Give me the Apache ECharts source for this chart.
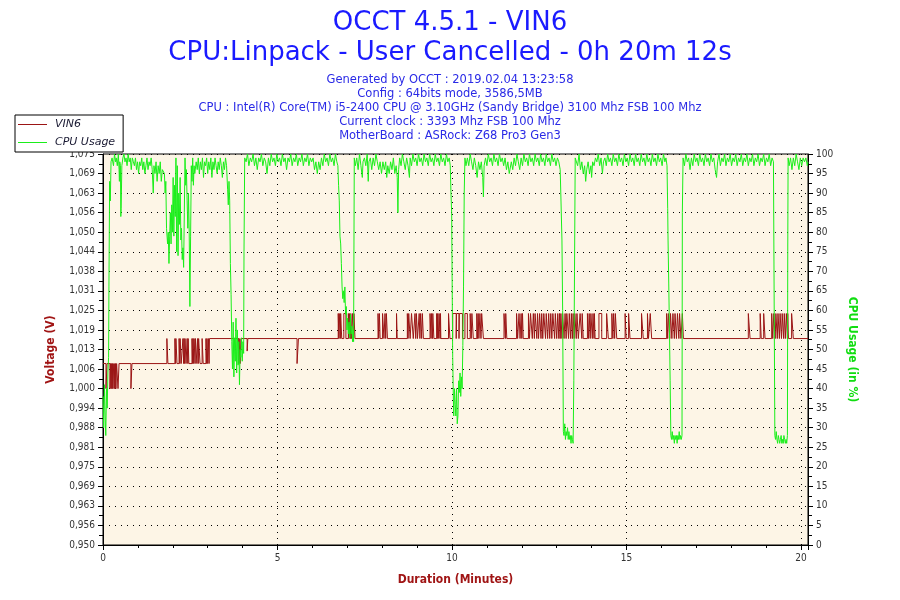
<!DOCTYPE html>
<html lang="en">
<head>
    <meta charset="UTF-8">
    <title>OCCT 4.5.1 - VIN6</title>
    <style>
        html, body { margin: 0; padding: 0; background: #fff; }
    </style>
</head>
<body>
<script src="https://cdn.jsdelivr.net/npm/echarts@6/dist/echarts.min.js"></script>
<div id="main" style="width: 900px;height:600px;"></div>

<script>
    // tick labels of the voltage axis (0,950 .. 1,075, step 0,00625)
    var voltLabels = ['0,950', '0,956', '0,963', '0,969', '0,975', '0,981', '0,988', '0,994', '1,000', '1,006',
        '1,013', '1,019', '1,025', '1,031', '1,038', '1,044', '1,050', '1,056', '1,063', '1,069', '1,075'];

    var infoLines = [
        'Generated by OCCT : 2019.02.04 13:23:58',
        'Config : 64bits mode, 3586,5MB',
        'CPU : Intel(R) Core(TM) i5-2400 CPU @ 3.10GHz (Sandy Bridge) 3100 Mhz FSB 100 Mhz',
        'Current clock : 3393 Mhz FSB 100 Mhz',
        'MotherBoard : ASRock: Z68 Pro3 Gen3'
    ];

    // VIN6 voltage, [minute, volts] - value holds until the next point
    var vin6 = [
        [0, 1.008],
        [0.086, 1.000], [0.115, 1.008],
        [0.2, 1.000], [0.215, 1.008],
        [0.23, 1.000], [0.245, 1.008], [0.255, 1.000], [0.27, 1.008], [0.28, 1.000], [0.295, 1.008],
        [0.32, 1.000], [0.335, 1.008], [0.345, 1.000], [0.36, 1.008], [0.37, 1.000], [0.39, 1.008],
        [0.43, 1.000], [0.46, 1.008],
        [0.8, 1.000], [0.83, 1.008],
        [1.83, 1.016], [1.86, 1.008],
        [2.06, 1.016], [2.08, 1.008], [2.09, 1.016], [2.12, 1.008],
        [2.18, 1.016], [2.2, 1.008], [2.21, 1.016], [2.24, 1.008],
        [2.29, 1.016], [2.31, 1.008], [2.32, 1.016], [2.34, 1.008], [2.35, 1.016], [2.38, 1.008],
        [2.41, 1.016], [2.43, 1.008], [2.44, 1.016], [2.46, 1.008],
        [2.55, 1.016], [2.57, 1.008], [2.58, 1.016], [2.6, 1.008], [2.61, 1.016], [2.64, 1.008], [2.65, 1.016], [2.69, 1.008],
        [2.71, 1.016], [2.73, 1.008], [2.74, 1.016], [2.78, 1.008],
        [2.84, 1.016], [2.87, 1.008],
        [2.95, 1.016], [2.97, 1.008], [2.98, 1.016], [3.0, 1.008], [3.02, 1.016], [3.04, 1.008],
        [3.05, 1.016],
        [3.89, 1.008], [3.9, 1.016], [3.93, 1.008], [3.95, 1.016],
        [4.13, 1.012], [4.15, 1.016],
        [5.56, 1.008], [5.6, 1.016],
        [6.74, 1.024], [6.76, 1.016], [6.77, 1.024], [6.8, 1.016], [6.81, 1.024], [6.84, 1.016],
        [6.9, 1.024], [6.96, 1.016],
        [7.03, 1.024], [7.05, 1.016], [7.06, 1.024], [7.09, 1.016], [7.1, 1.024], [7.12, 1.016],
        [7.15, 1.024], [7.18, 1.016], [7.19, 1.024], [7.22, 1.016],
        [7.88, 1.024], [7.9, 1.016], [7.92, 1.024], [7.94, 1.016],
        [8.01, 1.024], [8.05, 1.016],
        [8.08, 1.024], [8.1, 1.016], [8.12, 1.024], [8.15, 1.016],
        [8.41, 1.024], [8.43, 1.016],
        [8.72, 1.024], [8.74, 1.016], [8.76, 1.024], [8.8, 1.016],
        [8.84, 1.024], [8.89, 1.016],
        [8.94, 1.024], [8.96, 1.016], [8.98, 1.024], [9.01, 1.016],
        [9.06, 1.024], [9.08, 1.016], [9.1, 1.024], [9.13, 1.016], [9.15, 1.024], [9.18, 1.016],
        [9.37, 1.024], [9.4, 1.016], [9.41, 1.024], [9.44, 1.016], [9.45, 1.024], [9.48, 1.016],
        [9.56, 1.024], [9.58, 1.016], [9.59, 1.024], [9.62, 1.016], [9.63, 1.024], [9.66, 1.016], [9.67, 1.024], [9.68, 1.016],
        [9.9, 1.024], [9.94, 1.016],
        [10.02, 1.024], [10.12, 1.016], [10.13, 1.024], [10.2, 1.016], [10.21, 1.024], [10.3, 1.016],
        [10.37, 1.024], [10.44, 1.016],
        [10.52, 1.024], [10.55, 1.016], [10.57, 1.024], [10.61, 1.016],
        [10.71, 1.024], [10.73, 1.016], [10.75, 1.024], [10.77, 1.016],
        [10.8, 1.024], [10.83, 1.016], [10.85, 1.024], [10.9, 1.016],
        [11.49, 1.024], [11.53, 1.016], [11.54, 1.024], [11.57, 1.016],
        [11.85, 1.024], [11.88, 1.016], [11.92, 1.024], [11.95, 1.016], [11.98, 1.024], [12.0, 1.016], [12.02, 1.024], [12.04, 1.016],
        [12.19, 1.024], [12.22, 1.016], [12.25, 1.024], [12.3, 1.016], [12.33, 1.024], [12.36, 1.016], [12.38, 1.024], [12.43, 1.016],
        [12.45, 1.024], [12.48, 1.016], [12.51, 1.024], [12.55, 1.016], [12.57, 1.024], [12.6, 1.016], [12.63, 1.024], [12.68, 1.016],
        [12.7, 1.024], [12.74, 1.016], [12.77, 1.024], [12.8, 1.016], [12.83, 1.024], [12.86, 1.016], [12.89, 1.024], [12.94, 1.016],
        [12.96, 1.024], [13.0, 1.016], [13.03, 1.024], [13.06, 1.016], [13.08, 1.024], [13.1, 1.016],
        [13.12, 1.024], [13.15, 1.016], [13.17, 1.024], [13.21, 1.016], [13.24, 1.024], [13.27, 1.016], [13.29, 1.024], [13.34, 1.016],
        [13.36, 1.024], [13.4, 1.016], [13.42, 1.024], [13.45, 1.016], [13.47, 1.024], [13.5, 1.016], [13.52, 1.024], [13.56, 1.016],
        [13.58, 1.024], [13.62, 1.016],
        [13.67, 1.024], [13.72, 1.016], [13.73, 1.024], [13.76, 1.016],
        [13.88, 1.024], [13.91, 1.016], [13.93, 1.024], [13.96, 1.016], [13.98, 1.024], [14.02, 1.016], [14.04, 1.024], [14.07, 1.016],
        [14.08, 1.024], [14.1, 1.016],
        [14.21, 1.024], [14.29, 1.016],
        [14.43, 1.024], [14.48, 1.016],
        [14.58, 1.024], [14.61, 1.016], [14.63, 1.024], [14.66, 1.016], [14.68, 1.024], [14.72, 1.016],
        [14.96, 1.024], [14.99, 1.016], [15.06, 1.024], [15.1, 1.016],
        [15.43, 1.024], [15.48, 1.016],
        [15.6, 1.024], [15.63, 1.016], [15.68, 1.024], [15.72, 1.016],
        [16.15, 1.024], [16.18, 1.016], [16.2, 1.024], [16.24, 1.016], [16.26, 1.024], [16.3, 1.016], [16.33, 1.024], [16.37, 1.016],
        [16.39, 1.024], [16.43, 1.016], [16.46, 1.024], [16.5, 1.016], [16.52, 1.024], [16.56, 1.016], [16.6, 1.024], [16.63, 1.016],
        [18.49, 1.024], [18.54, 1.016],
        [18.83, 1.024], [18.86, 1.016], [18.93, 1.024], [18.97, 1.016],
        [19.16, 1.024], [19.19, 1.016], [19.22, 1.024], [19.26, 1.016], [19.28, 1.024], [19.32, 1.016], [19.34, 1.024], [19.38, 1.016],
        [19.4, 1.024], [19.44, 1.016], [19.46, 1.024], [19.5, 1.016], [19.52, 1.024], [19.55, 1.016], [19.58, 1.024], [19.61, 1.016],
        [19.62, 1.024], [19.64, 1.016],
        [19.73, 1.024], [19.78, 1.016],
        [20.2, 1.016]
    ];

    // CPU usage in %, [minute, percent]
    var cpuUsage = [
        [0, 38], [0.02, 30], [0.04, 41], [0.06, 33], [0.08, 28], [0.1, 40], [0.12, 35], [0.14, 44], [0.16, 48], [0.17, 66],
        [0.19, 93], [0.21, 88], [0.23, 98], [0.26, 99],
        [0.3, 97], [0.33, 100], [0.36, 98], [0.38, 99], [0.41, 97], [0.44, 100], [0.46, 96],
        [0.47, 93], [0.48, 98], [0.5, 97], [0.51, 84], [0.52, 86], [0.54, 97],
        [0.57, 99], [0.6, 100], [0.63, 98], [0.66, 99], [0.69, 97], [0.72, 100], [0.75, 98], [0.78, 99], [0.81, 96], [0.84, 99],
        [0.87, 98], [0.9, 97], [0.93, 99], [0.96, 96], [0.99, 98], [1.02, 95], [1.05, 98], [1.08, 97], [1.11, 99], [1.14, 96],
        [1.17, 98], [1.2, 95], [1.23, 97], [1.26, 99], [1.29, 96], [1.32, 98], [1.35, 97], [1.38, 99], [1.41, 96],
        [1.44, 90], [1.46, 97],
        [1.49, 95], [1.52, 98], [1.55, 93], [1.58, 97], [1.61, 95], [1.64, 98], [1.67, 93], [1.7, 96], [1.73, 96], [1.76, 95],
        [1.78, 90], [1.8, 93], [1.82, 81], [1.85, 77], [1.87, 80], [1.89, 72], [1.91, 79], [1.93, 85], [1.95, 77], [1.97, 87],
        [1.99, 80], [2.01, 94], [2.03, 79], [2.05, 92], [2.07, 84], [2.09, 99], [2.11, 75], [2.13, 97], [2.15, 74], [2.17, 90],
        [2.19, 82], [2.21, 94], [2.23, 78], [2.25, 81], [2.27, 73], [2.29, 76], [2.31, 71], [2.33, 85], [2.35, 99], [2.37, 92],
        [2.39, 96], [2.41, 88], [2.43, 81], [2.45, 90], [2.47, 80], [2.49, 61], [2.51, 79], [2.53, 97], [2.55, 93], [2.57, 99],
        [2.59, 92], [2.61, 97], [2.63, 95],
        [2.67, 98], [2.7, 96], [2.73, 99], [2.76, 95], [2.79, 98], [2.82, 96], [2.85, 99], [2.88, 94], [2.91, 98], [2.94, 97],
        [2.97, 99], [3.0, 95], [3.03, 98], [3.06, 96], [3.09, 99], [3.12, 94], [3.15, 98], [3.18, 96], [3.21, 99], [3.24, 97],
        [3.27, 95], [3.3, 98], [3.33, 96], [3.36, 99], [3.39, 97], [3.42, 94], [3.45, 98], [3.48, 96], [3.51, 99], [3.54, 97],
        [3.57, 91], [3.59, 87], [3.61, 93], [3.63, 88], [3.65, 72], [3.67, 64], [3.69, 52], [3.71, 45], [3.73, 57], [3.75, 43],
        [3.77, 53], [3.79, 47], [3.81, 58], [3.83, 44], [3.85, 55], [3.87, 46], [3.89, 52], [3.91, 41], [3.93, 50], [3.95, 48],
        [3.97, 53], [3.99, 47], [4.01, 52], [4.03, 49], [4.04, 75], [4.06, 99],
        [4.1, 98], [4.14, 100], [4.18, 97], [4.22, 99], [4.26, 98], [4.3, 100], [4.34, 97], [4.38, 99], [4.42, 96], [4.46, 99],
        [4.5, 98], [4.54, 100], [4.58, 97], [4.62, 99], [4.66, 98], [4.7, 95], [4.74, 99], [4.78, 97], [4.82, 100], [4.86, 98],
        [4.9, 99], [4.94, 97], [4.98, 100], [5.02, 98], [5.06, 99], [5.1, 97], [5.14, 100], [5.18, 98], [5.22, 99], [5.26, 96],
        [5.3, 99], [5.34, 98], [5.38, 100], [5.42, 97], [5.46, 99], [5.5, 98], [5.54, 100], [5.58, 97], [5.62, 99], [5.66, 98],
        [5.7, 100], [5.74, 97], [5.78, 99], [5.82, 98], [5.86, 100], [5.9, 97], [5.94, 99], [5.98, 98], [6.02, 99], [6.06, 96],
        [6.1, 98], [6.14, 95], [6.18, 98], [6.22, 96], [6.26, 99], [6.3, 97], [6.34, 100], [6.38, 98], [6.42, 99], [6.46, 97],
        [6.5, 100], [6.54, 98], [6.58, 99], [6.62, 97], [6.66, 100], [6.7, 98],
        [6.73, 97], [6.75, 92], [6.77, 88], [6.79, 79], [6.81, 77], [6.83, 72], [6.85, 66], [6.87, 63], [6.89, 65], [6.91, 62],
        [6.93, 66], [6.95, 59], [6.97, 61], [6.99, 55], [7.01, 58], [7.03, 54], [7.05, 57], [7.07, 53], [7.09, 59], [7.11, 54],
        [7.13, 56], [7.15, 52], [7.17, 55], [7.18, 52], [7.2, 99],
        [7.23, 97], [7.27, 99], [7.31, 96], [7.35, 100], [7.39, 97], [7.43, 94], [7.45, 98], [7.49, 99], [7.53, 97], [7.57, 100],
        [7.6, 93], [7.62, 98], [7.66, 99], [7.7, 96], [7.74, 99], [7.78, 97], [7.82, 100], [7.86, 98], [7.9, 96], [7.94, 98],
        [7.98, 95], [8.02, 98], [8.06, 96], [8.1, 98], [8.13, 94], [8.16, 97], [8.2, 95], [8.24, 98], [8.28, 96], [8.32, 99],
        [8.36, 95], [8.4, 97], [8.43, 94], [8.45, 85], [8.47, 96], [8.5, 99], [8.54, 97], [8.58, 100], [8.62, 98], [8.66, 96],
        [8.7, 99], [8.74, 97], [8.78, 94], [8.8, 99], [8.84, 97], [8.88, 100], [8.92, 98], [8.96, 99], [9.0, 97], [9.04, 100],
        [9.08, 98], [9.12, 99], [9.16, 97], [9.2, 100], [9.24, 98], [9.28, 99], [9.32, 97], [9.36, 100], [9.4, 98], [9.44, 99],
        [9.48, 97], [9.52, 100], [9.56, 98], [9.6, 99], [9.64, 97], [9.68, 100], [9.72, 98], [9.76, 99], [9.8, 97], [9.84, 100],
        [9.88, 98], [9.92, 99],
        [9.95, 97], [9.97, 90], [9.99, 85], [10.01, 60], [10.02, 48], [10.04, 37], [10.05, 33], [10.07, 40], [10.09, 36], [10.11, 33],
        [10.13, 40], [10.15, 31], [10.17, 33], [10.19, 42], [10.21, 39], [10.23, 44], [10.25, 38], [10.27, 43], [10.29, 40], [10.31, 51],
        [10.33, 66], [10.35, 90], [10.37, 99],
        [10.4, 97], [10.44, 99], [10.48, 97], [10.52, 100], [10.56, 98], [10.6, 96], [10.64, 99], [10.68, 97], [10.72, 94], [10.76, 98],
        [10.8, 96], [10.84, 98], [10.88, 94], [10.9, 89], [10.92, 97], [10.96, 99], [11.0, 97], [11.04, 100], [11.08, 98], [11.12, 99],
        [11.16, 97], [11.2, 100], [11.24, 98], [11.28, 99], [11.32, 97], [11.36, 100], [11.4, 98], [11.44, 99], [11.48, 97], [11.52, 99],
        [11.56, 96], [11.6, 98], [11.64, 95], [11.66, 96], [11.7, 98], [11.74, 96], [11.78, 99], [11.82, 97], [11.86, 100], [11.9, 98],
        [11.94, 96], [11.98, 99], [12.02, 97], [12.06, 100], [12.1, 98], [12.14, 99], [12.18, 97], [12.22, 100], [12.26, 98], [12.3, 99],
        [12.34, 97], [12.38, 100], [12.42, 98], [12.46, 99], [12.5, 97], [12.54, 100], [12.58, 98], [12.62, 99], [12.66, 97], [12.7, 100],
        [12.74, 98], [12.78, 99], [12.82, 97], [12.86, 100], [12.9, 98], [12.94, 99], [12.98, 97], [13.02, 99], [13.06, 98],
        [13.1, 96], [13.12, 89], [13.15, 78], [13.17, 60], [13.19, 29], [13.21, 28], [13.23, 31], [13.25, 27], [13.27, 29], [13.29, 28],
        [13.31, 30], [13.33, 27], [13.35, 29], [13.37, 27], [13.39, 28], [13.41, 26], [13.43, 28], [13.45, 27], [13.47, 26], [13.49, 42],
        [13.51, 70], [13.53, 99],
        [13.56, 99], [13.6, 97], [13.64, 100], [13.68, 96], [13.72, 98], [13.76, 95], [13.8, 97], [13.83, 93], [13.86, 96], [13.9, 98],
        [13.94, 95], [13.98, 97], [14.0, 94], [14.03, 98], [14.07, 97], [14.11, 99], [14.15, 98], [14.19, 100], [14.23, 97], [14.27, 99],
        [14.31, 95], [14.34, 98], [14.38, 99], [14.42, 97], [14.46, 100], [14.5, 98], [14.54, 99], [14.58, 97], [14.62, 100], [14.66, 98],
        [14.7, 99], [14.74, 97], [14.78, 100], [14.82, 98], [14.86, 99], [14.9, 97], [14.94, 100], [14.98, 98], [15.02, 99], [15.06, 97],
        [15.1, 100], [15.14, 98], [15.18, 99], [15.22, 97], [15.26, 100], [15.3, 98], [15.34, 99], [15.38, 97], [15.42, 100], [15.46, 98],
        [15.5, 99], [15.54, 97], [15.58, 100], [15.62, 98], [15.66, 99], [15.7, 97], [15.74, 100], [15.78, 98], [15.82, 99], [15.86, 97],
        [15.9, 100], [15.94, 98], [15.98, 99], [16.02, 97], [16.06, 100], [16.1, 98], [16.13, 99],
        [16.16, 97], [16.18, 86], [16.19, 78], [16.21, 67], [16.23, 55], [16.25, 42], [16.27, 28], [16.29, 27], [16.31, 29], [16.33, 27],
        [16.35, 28], [16.37, 26], [16.39, 28], [16.41, 27], [16.43, 28], [16.45, 26], [16.47, 28], [16.49, 27], [16.51, 29], [16.53, 27],
        [16.55, 28], [16.57, 27], [16.59, 28], [16.6, 85], [16.62, 99],
        [16.66, 97], [16.7, 100], [16.74, 98], [16.78, 99], [16.82, 96], [16.86, 99], [16.9, 97], [16.94, 100], [16.98, 98], [17.02, 99],
        [17.06, 97], [17.1, 100], [17.14, 98], [17.18, 99], [17.22, 97], [17.26, 100], [17.3, 98], [17.34, 99], [17.38, 97], [17.42, 100],
        [17.46, 98], [17.5, 99], [17.54, 96], [17.58, 94], [17.61, 98], [17.65, 100], [17.69, 97], [17.73, 99], [17.77, 98], [17.81, 100],
        [17.85, 97], [17.89, 99], [17.93, 98], [17.97, 100], [18.01, 97], [18.05, 99], [18.09, 98], [18.13, 100], [18.17, 97], [18.21, 99],
        [18.25, 98], [18.29, 100], [18.33, 97], [18.37, 99], [18.41, 98], [18.45, 100], [18.49, 97], [18.53, 99], [18.57, 98], [18.61, 100],
        [18.65, 97], [18.69, 99], [18.73, 98], [18.77, 100], [18.81, 97], [18.85, 99], [18.89, 98], [18.93, 100], [18.97, 97], [19.01, 99],
        [19.05, 98], [19.09, 100], [19.13, 97], [19.17, 99], [19.21, 98],
        [19.23, 98], [19.25, 28], [19.27, 27], [19.29, 29], [19.31, 27], [19.33, 26], [19.35, 28], [19.37, 27], [19.39, 26], [19.41, 27],
        [19.43, 28], [19.45, 26], [19.47, 27], [19.49, 26], [19.51, 28], [19.53, 27], [19.55, 26], [19.57, 27], [19.59, 26], [19.61, 28],
        [19.62, 75], [19.63, 99],
        [19.66, 97], [19.7, 99], [19.74, 96], [19.78, 99], [19.82, 97], [19.86, 100], [19.9, 98], [19.94, 96], [19.98, 99], [20.02, 97],
        [20.06, 99], [20.1, 98], [20.14, 99], [20.18, 97], [20.2, 98]
    ];

    var myChart = echarts.init(document.getElementById('main'));

    var labelFont = 'DejaVu Sans Condensed, DejaVu Sans, sans-serif';
    var dots = [1, 5];

    var option = {
        animation: false,
        backgroundColor: '#ffffff',
        title: [{
            text: 'OCCT 4.5.1 - VIN6\nCPU:Linpack - User Cancelled - 0h 20m 12s',
            left: 'center',
            top: 3,
            textStyle: {
                color: '#1a1aff',
                fontSize: 26,
                fontWeight: 'normal',
                fontFamily: 'DejaVu Sans, sans-serif',
                lineHeight: 30
            }
        }, {
            text: infoLines.join('\n'),
            left: 'center',
            top: 68,
            textStyle: {
                color: '#2a2ae6',
                fontSize: 11.5,
                fontWeight: 'normal',
                fontFamily: 'DejaVu Sans, sans-serif',
                lineHeight: 14
            }
        }],
        legend: {
            orient: 'vertical',
            left: 15,
            top: 115,
            backgroundColor: '#ffffff',
            borderColor: '#000',
            borderWidth: 1,
            borderRadius: 0,
            padding: [3, 8, 3, 3],
            icon: 'rect',
            itemWidth: 29,
            itemHeight: 1,
            itemGap: 5,
            textStyle: {
                fontSize: 11,
                fontStyle: 'italic',
                color: '#1a1a33',
                fontFamily: 'DejaVu Sans, sans-serif',
                lineHeight: 13,
                padding: [0, 0, 0, 3]
            },
            data: ['VIN6', 'CPU Usage']
        },
        grid: {
            left: 103,
            right: 92,
            top: 154,
            bottom: 55,
            show: true,
            backgroundColor: '#fdf5e6',
            borderColor: '#000',
            borderWidth: 1
        },
        xAxis: {
            type: 'value',
            min: 0,
            max: 20.2,
            interval: 5,
            name: 'Duration (Minutes)',
            nameLocation: 'middle',
            nameGap: 29,
            nameTextStyle: {
                color: '#a01515',
                fontWeight: 'bold',
                fontSize: 12,
                fontFamily: labelFont
            },
            axisLine: { lineStyle: { color: '#000', width: 1 } },
            axisTick: { length: 5, lineStyle: { color: '#000' } },
            minorTick: { show: true, splitNumber: 5, length: 3, lineStyle: { color: '#000' } },
            axisLabel: {
                color: '#333',
                fontSize: 10,
                fontFamily: labelFont,
                formatter: function (v) {
                    return v % 5 === 0 ? String(v) : '';
                }
            },
            splitLine: { show: true, lineStyle: { color: '#000', type: dots, width: 1 } }
        },
        yAxis: [{
            type: 'value',
            min: 0.95,
            max: 1.075,
            interval: 0.00625,
            position: 'left',
            name: 'Voltage (V)',
            nameLocation: 'middle',
            nameRotate: 90,
            nameGap: 46,
            nameTextStyle: {
                color: '#a01515',
                fontWeight: 'bold',
                fontSize: 12,
                fontFamily: labelFont
            },
            axisLine: { show: true, lineStyle: { color: '#000', width: 1 } },
            axisTick: { show: true, length: 5, lineStyle: { color: '#000' } },
            minorTick: { show: true, splitNumber: 2, length: 4, lineStyle: { color: '#000' } },
            axisLabel: {
                color: '#333',
                fontSize: 10,
                fontFamily: labelFont,
                formatter: function (v) {
                    return voltLabels[Math.round((v - 0.95) / 0.00625)] || '';
                }
            },
            splitLine: { show: true, lineStyle: { color: '#000', type: dots, width: 1 } }
        }, {
            type: 'value',
            min: 0,
            max: 100,
            interval: 5,
            position: 'right',
            name: 'CPU Usage (in %)',
            nameLocation: 'middle',
            nameRotate: -90,
            nameGap: 38,
            nameTextStyle: {
                color: '#11dd11',
                fontWeight: 'bold',
                fontSize: 12,
                fontFamily: labelFont
            },
            axisLine: { show: true, lineStyle: { color: '#000', width: 1 } },
            axisTick: { show: true, length: 5, lineStyle: { color: '#000' } },
            minorTick: { show: true, splitNumber: 2, length: 4, lineStyle: { color: '#000' } },
            axisLabel: {
                color: '#333',
                fontSize: 10,
                fontFamily: labelFont
            },
            splitLine: { show: false }
        }],
        series: [{
            name: 'VIN6',
            type: 'line',
            yAxisIndex: 0,
            step: 'end',
            symbol: 'none',
            color: '#9b1515',
            lineStyle: { width: 1, color: '#9b1515' },
            data: vin6
        }, {
            name: 'CPU Usage',
            type: 'line',
            yAxisIndex: 1,
            symbol: 'none',
            color: '#1aee1a',
            lineStyle: { width: 1, color: '#1aee1a' },
            data: cpuUsage
        }]
    };

    myChart.setOption(option);
</script>
</body>
</html>
